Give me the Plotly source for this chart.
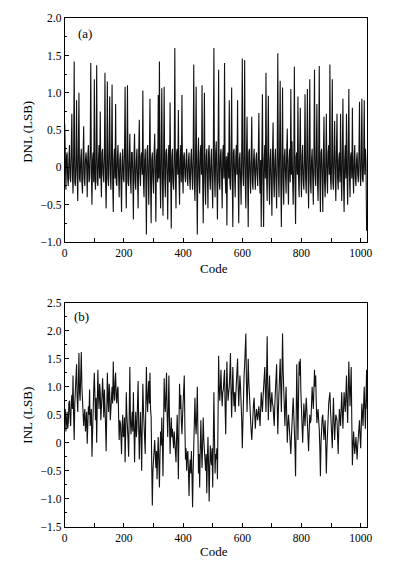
import plotly.graph_objects as go

# ADC output codes (sampled every 2 codes)
codes = list(range(0, 1024, 2))

# DNL (LSB)
dnl = [
    0.58, -0.10, -0.30, 0.15, 0.20, -0.15, -0.25, 0.10, 0.30, -0.15, -0.20, 0.20, 0.72, -0.10, -0.35, 0.15,
    1.42, -0.20, -0.25, 0.05, 0.90, -0.10, -0.45, 0.20, 1.00, -0.15, -0.20, 0.10, 0.25, -0.20, -0.35, 0.15,
    0.55, -0.15, -0.25, 0.10, 0.20, 0.05, -0.40, 0.15, 0.30, -0.20, -0.15, 0.20, 1.40, -0.10, -0.50, 0.10,
    0.20, -0.20, 1.18, -0.15, -0.30, 0.15, 1.37, -0.20, -0.25, 0.10, 0.30, -0.15, 0.75, -0.10, -0.40, 0.20,
    0.25, -0.10, -0.20, 0.15, 1.27, -0.20, -0.55, 0.10, 1.15, -0.15, -0.25, 0.20, 0.95, -0.10, -0.30, 0.15,
    1.11, -0.20, -0.60, 0.10, 0.25, -0.15, 0.85, -0.20, -0.25, 0.15, 0.30, -0.10, -0.40, 0.10, 0.20, -0.20,
    -0.60, 0.10, 0.25, -0.15, -0.20, 0.20, 1.08, -0.10, -0.55, 0.15, 1.10, -0.20, -0.25, 0.10, 0.45, -0.15,
    -0.35, 0.20, 0.20, -0.10, -0.70, 0.15, 0.45, -0.20, -0.30, 0.10, 0.25, -0.15, -0.55, 0.20, 0.64, -0.10,
    -0.25, 0.15, 0.20, -0.10, 1.03, -0.20, -0.40, 0.10, 0.25, -0.15, -0.90, 0.20, 0.30, -0.10, -0.50, 0.15,
    0.92, -0.20, -0.75, 0.10, 0.20, -0.15, -0.35, 0.20, 0.45, -0.10, -0.73, 0.15, 0.25, -0.20, 0.97, -0.15,
    1.42, -0.10, -0.55, 0.15, 1.06, -0.20, -0.65, 0.10, 1.08, -0.15, -0.40, 0.20, 0.25, -0.10, -0.70, 0.15,
    0.30, -0.20, 0.87, -0.10, -0.82, 0.15, 0.25, -0.20, -0.30, 0.10, 1.60, -0.15, -0.55, 0.20, 0.25, -0.10,
    0.77, -0.15, -0.50, 0.10, 0.30, -0.20, 0.97, -0.10, -0.35, 0.15, 0.20, -0.10, -0.20, 0.10, 0.25, -0.15,
    -0.25, 0.10, 0.20, -0.15, -0.30, 0.10, 0.25, -0.10, -0.30, 0.15, 1.38, -0.20, -0.45, 0.10, 1.08, -0.15,
    -0.90, 0.10, 0.40, -0.15, -0.35, 0.20, 0.30, -0.10, 1.10, -0.15, -0.75, 0.10, 1.00, -0.20, -0.50, 0.15,
    0.25, -0.10, -0.55, 0.20, 0.30, -0.15, -0.30, 0.10, 0.25, -0.20, -0.55, 0.15, 1.60, -0.10, -0.40, 0.20,
    0.35, -0.15, -0.70, 0.10, 1.31, -0.20, -0.30, 0.15, 0.25, -0.10, -0.55, 0.20, 0.30, -0.15, 1.40, -0.10,
    -0.35, 0.15, -0.78, 0.10, 0.20, -0.15, 0.90, -0.20, -0.30, 0.10, 1.07, -0.15, -0.80, 0.20, 0.25, -0.10,
    -0.40, 0.15, 0.30, -0.10, 0.90, -0.20, -0.75, 0.10, 0.20, -0.15, -0.50, 0.20, 1.46, -0.10, -0.25, 0.15,
    1.44, -0.20, -0.55, 0.10, 0.68, -0.15, -0.80, 0.20, 0.25, -0.10, -0.35, 0.15, 0.68, -0.20, -0.30, 0.10,
    0.25, -0.10, -0.30, 0.10, 0.20, -0.10, -0.25, 0.15, 0.73, -0.10, -0.35, 0.10, -0.80, 0.15, 0.98, -0.20,
    -0.80, 0.10, 0.30, -0.15, 1.27, -0.10, -0.45, 0.20, 0.96, -0.15, -0.50, 0.10, 0.25, -0.20, -0.65, 0.15,
    0.60, -0.15, -0.40, 0.10, 0.25, -0.20, -0.55, 0.15, 1.53, -0.10, -0.40, 0.20, 1.16, -0.15, -0.80, 0.10,
    1.07, -0.20, -0.50, 0.15, 0.25, -0.10, -0.35, 0.20, 0.52, -0.15, -0.50, 0.10, 0.25, -0.20, 1.05, -0.10,
    0.35, -0.15, -0.50, 0.10, 1.35, -0.20, -0.76, 0.15, 0.20, -0.10, 0.95, -0.15, -0.40, 0.20, 0.80, -0.10,
    -0.40, 0.15, 0.30, -0.20, -0.30, 0.10, 0.98, -0.15, -0.35, 0.20, 1.05, -0.10, -0.55, 0.15, 1.18, -0.20,
    -0.35, 0.10, 0.25, -0.15, -0.50, 0.20, 1.31, -0.10, -0.25, 0.15, 0.85, -0.20, -0.45, 0.10, 1.36, -0.15,
    -0.60, 0.20, 0.25, -0.10, -0.60, 0.15, 0.68, -0.20, -0.40, 0.10, 0.72, -0.15, -0.35, 0.20, 0.30, -0.10,
    1.38, -0.15, -0.30, 0.10, 1.18, -0.20, -0.30, 0.15, 0.62, -0.10, -0.45, 0.20, 0.72, -0.15, -0.30, 0.10,
    0.20, -0.20, 0.72, -0.10, -0.45, 0.15, 0.92, -0.20, -0.60, 0.10, 0.30, -0.15, 0.72, -0.10, -0.50, 0.20,
    1.05, -0.10, -0.40, 0.15, 0.20, -0.15, 0.80, -0.10, -0.35, 0.10, 0.30, -0.15, -0.25, 0.10, 0.20, -0.10,
    -0.20, 0.15, 0.88, -0.10, -0.25, 0.10, 0.92, -0.15, -0.20, 0.10, 0.90, -0.10, 0.25, 0.05, -0.85, -0.60,
]

# INL (LSB)
inl = [
    0.45, 0.60, 0.20, 0.40, 0.55, 0.25, 0.35, 0.70, 0.75, 0.45, 0.30, 0.70, 0.85, 0.60, 1.20, 0.50,
    0.05, 0.70, 0.90, 1.10, 1.40, 0.80, 0.55, 1.00, 1.60, 0.90, 0.75, 1.20, 1.62, 1.00, 0.80, 0.40,
    0.30, 0.50, 0.60, 0.20, 0.40, 0.55, -0.02, 0.40, 0.65, 0.50, 0.95, 0.30, 0.45, 0.60, -0.25, 0.40,
    0.75, 0.95, 1.25, 0.60, 0.40, 0.80, 0.00, 0.70, 1.30, 0.85, 0.60, 1.05, 0.90, 0.40, 0.55, 0.85,
    1.15, 0.70, 0.45, 0.95, 0.70, 0.30, -0.15, 0.60, 1.25, 0.80, 0.55, 1.05, 0.90, 0.40, 0.60, 0.85,
    1.00, 0.70, 1.45, 0.90, 0.75, 1.10, 1.25, 0.80, 0.70, 0.95, 1.00, 0.50, 0.05, 0.40, 0.35, 0.10,
    -0.20, 0.30, 0.50, 0.10, 0.15, 0.45, -0.35, 0.20, 0.90, 0.50, 0.35, 0.05, -0.25, 0.60, 1.35, 0.40,
    0.15, 0.35, 0.55, 0.20, 0.90, 0.30, -0.35, 0.25, 0.55, 0.10, 0.25, 0.70, 1.10, 0.30, -0.30, 0.20,
    0.55, 0.10, -0.50, 0.40, 1.05, 0.60, 0.25, 0.05, -0.20, 0.70, 1.35, 0.80, 0.55, 0.90, 1.10, 0.70,
    1.25, 0.60, 0.45, -0.40, -1.12, -0.50, -0.30, -0.10, 0.05, -0.20, -0.45, -0.15, -0.65, -0.20, 0.10, -0.35,
    -0.80, -0.20, 0.20, -0.05, 0.45, 0.00, -0.60, 0.30, 1.15, 0.70, 0.55, 0.90, 1.25, 0.50, 0.10, 0.60,
    1.20, 0.40, -0.20, 0.20, 0.45, 0.10, 0.25, 0.05, -0.10, 0.20, 0.05, -0.15, -0.35, 0.10, 0.50, 0.00,
    -0.65, 0.30, 1.05, 0.60, 0.85, 0.40, 0.15, 0.45, 0.75, 0.90, 1.20, 0.30, -0.30, -0.10, -0.50, -0.20,
    -0.15, -0.50, -0.95, -0.45, -0.30, -0.55, -0.15, -0.60, -1.15, -0.50, -0.05, 0.30, 0.80, 0.35, 0.15, 0.50,
    1.00, 0.20, -0.55, -0.20, -0.80, -0.10, 0.40, -0.10, -0.45, 0.00, 0.45, 0.05, -0.20, -0.35, -0.50, -0.20,
    -0.90, -0.30, 0.10, -0.40, -1.05, -0.45, -0.05, -0.30, -0.40, -0.10, -0.80, 0.00, 0.90, 0.10, -0.55, -0.20,
    -0.30, -0.10, -0.65, 0.40, 1.55, 1.00, 0.75, 1.00, 1.30, 0.90, 0.65, 0.90, 0.95, 1.15, 1.30, 0.60,
    0.15, 0.90, 1.45, 1.00, 0.75, 0.90, 1.00, 1.25, 1.60, 0.90, 0.45, 0.95, 1.35, 0.90, 0.65, 0.90,
    0.55, 0.85, 1.10, 1.30, 1.50, 1.00, 0.65, 0.95, 1.20, 1.00, 0.80, 0.40, -0.10, 0.50, 1.00, 1.20,
    1.40, 1.60, 1.95, 1.10, 0.55, 1.00, 1.50, 1.10, 0.80, 0.55, 0.35, 0.20, 0.05, 0.35, 0.60, 0.70,
    0.80, 0.50, 0.25, 0.45, 0.60, 0.50, 0.40, 0.55, 0.65, 0.45, 0.30, 0.60, 0.90, 0.70, 0.55, 0.80,
    1.00, 1.15, 1.35, 0.90, 0.55, 1.20, 1.90, 1.00, 0.40, 0.85, 1.20, 0.80, 0.55, 0.75, 0.90, 0.70,
    0.65, 0.45, 0.30, 0.70, 1.00, 1.20, 1.40, 0.70, 0.15, 0.60, 1.00, 1.25, 1.50, 1.00, 0.55, 1.20,
    1.95, 1.30, 0.85, 0.55, 0.30, 0.70, 1.00, 0.50, 0.00, 0.30, 0.50, 0.35, 0.20, 0.00, -0.20, 0.10,
    0.40, 0.60, 0.80, 0.50, 0.25, -0.10, -0.60, 0.40, 1.40, 0.70, 0.05, 0.80, 1.45, 1.20, 1.50, 0.90,
    0.45, 0.20, 0.00, 0.35, 0.70, 0.50, 0.30, 0.55, 0.80, 0.60, 0.40, 0.10, -0.15, 0.20, 0.50, 0.35,
    0.40, 0.70, 1.00, 0.80, 0.60, 0.95, 1.30, 1.00, 1.20, 0.70, 0.35, 0.50, 0.60, 0.40, 0.25, -0.10,
    -0.60, 0.00, 0.30, 0.45, 0.50, 0.25, 0.05, 0.25, 0.40, -0.05, -0.55, -0.10, 0.30, 0.50, 0.70, 0.80,
    0.90, 0.60, 0.35, 0.10, -0.10, 0.40, 0.80, 0.40, 0.05, 0.30, 0.50, 0.45, 0.40, 0.10, -0.20, 0.25,
    0.60, 0.45, 0.30, 0.60, 0.90, 0.55, 0.25, 0.60, 0.90, 0.70, 0.55, 0.85, 1.20, 0.70, 0.35, 0.90,
    1.45, 1.00, 0.65, 1.00, 1.35, 0.40, -0.40, -0.10, 0.20, 0.00, -0.20, -0.05, 0.10, -0.10, -0.30, -0.05,
    0.10, 0.20, 0.40, 0.10, -0.10, 0.30, 0.70, 0.50, 0.30, 0.70, 1.00, 0.60, 0.25, 0.80, 1.30, 0.60,
]

assert len(dnl) == len(codes) and len(inl) == len(codes)

x_tickvals = [0, 200, 400, 600, 800, 1000]
x_ticktext = ["0", "200", "400", "600", "800", "1000"]
dnl_tickvals = [-1.0, -0.5, 0, 0.5, 1.0, 1.5, 2.0]
dnl_ticktext = ["\u22121.0", "\u22120.5", "0", "0.5", "1.0", "1.5", "2.0"]
inl_tickvals = [-1.5, -1.0, -0.5, 0, 0.5, 1.0, 1.5, 2.0, 2.5]
inl_ticktext = ["\u22121.5", "\u22121.0", "\u22120.5", "0", "0.5", "1.0", "1.5", "2.0", "2.5"]

W, H = 396, 569
FONT = "Liberation Serif"
LINE_COLOR = "#111111"

xl, xr = 63 / W, 372 / W
a_top, a_bot = 1 - 12.5 / H, 1 - 241 / H
b_top, b_bot = 1 - 303 / H, 1 - 532 / H

fig = go.Figure()
fig.add_trace(go.Scatter(x=codes, y=dnl, mode="lines",
                         line=dict(color=LINE_COLOR, width=1.1),
                         xaxis="x", yaxis="y", showlegend=False))
fig.add_trace(go.Scatter(x=codes, y=inl, mode="lines",
                         line=dict(color=LINE_COLOR, width=1.1),
                         xaxis="x2", yaxis="y2", showlegend=False))

def xax(anchor):
    return dict(domain=[xl, xr], anchor=anchor, range=[0, 1023],
                tickvals=x_tickvals, ticktext=x_ticktext,
                ticks="inside", ticklen=4, tickwidth=1, tickcolor="black",
                minor=dict(dtick=100, tick0=0, ticks="inside", ticklen=4,
                           tickwidth=1, tickcolor="black", showgrid=False),
                showline=True, linecolor="black", linewidth=1, mirror=True,
                showgrid=False, zeroline=False,
                tickfont=dict(family=FONT, size=11.5, color="black"))

def yax(anchor, dom, rng, tv, tt):
    return dict(domain=dom, anchor=anchor, range=rng,
                tickvals=tv, ticktext=tt,
                ticks="inside", ticklen=4, tickwidth=1, tickcolor="black",
                minor=dict(dtick=0.25, tick0=0, ticks="inside", ticklen=2.5,
                           tickwidth=1, tickcolor="black", showgrid=False),
                showline=True, linecolor="black", linewidth=1, mirror=True,
                showgrid=False, zeroline=False,
                tickfont=dict(family=FONT, size=11.5, color="black"))

fig.update_layout(
    width=W, height=H,
    margin=dict(l=0, r=0, t=0, b=0),
    paper_bgcolor="white", plot_bgcolor="white",
    font=dict(family=FONT, color="black"),
    xaxis=xax("y"),
    yaxis=yax("x", [a_bot, a_top], [-1.0, 2.0], dnl_tickvals, dnl_ticktext),
    xaxis2=xax("y2"),
    yaxis2=yax("x2", [b_bot, b_top], [-1.5, 2.5], inl_tickvals, inl_ticktext),
)

ann_font = dict(family=FONT, size=13, color="black")
fig.add_annotation(text="DNL (LSB)", x=25 / W, y=1 - 128 / H, xref="paper", yref="paper",
                   textangle=-90, showarrow=False, font=ann_font, xanchor="center", yanchor="middle")
fig.add_annotation(text="INL (LSB)", x=25 / W, y=1 - 418 / H, xref="paper", yref="paper",
                   textangle=-90, showarrow=False, font=ann_font, xanchor="center", yanchor="middle")
fig.add_annotation(text="Code", x=215 / W, y=1 - 268 / H, xref="paper", yref="paper",
                   showarrow=False, font=ann_font, xanchor="center", yanchor="middle")
fig.add_annotation(text="Code", x=215 / W, y=1 - 557 / H, xref="paper", yref="paper",
                   showarrow=False, font=ann_font, xanchor="center", yanchor="middle")
fig.add_annotation(text="(a)", x=84 / W, y=1 - 28 / H, xref="paper", yref="paper",
                   showarrow=False, font=ann_font, xanchor="center", yanchor="middle")
fig.add_annotation(text="(b)", x=80 / W, y=1 - 317 / H, xref="paper", yref="paper",
                   showarrow=False, font=ann_font, xanchor="center", yanchor="middle")

fig.write_html("out.html",
               config={"displayModeBar": False},
               post_script="document.body.style.margin='0';document.body.style.overflow='hidden';")
